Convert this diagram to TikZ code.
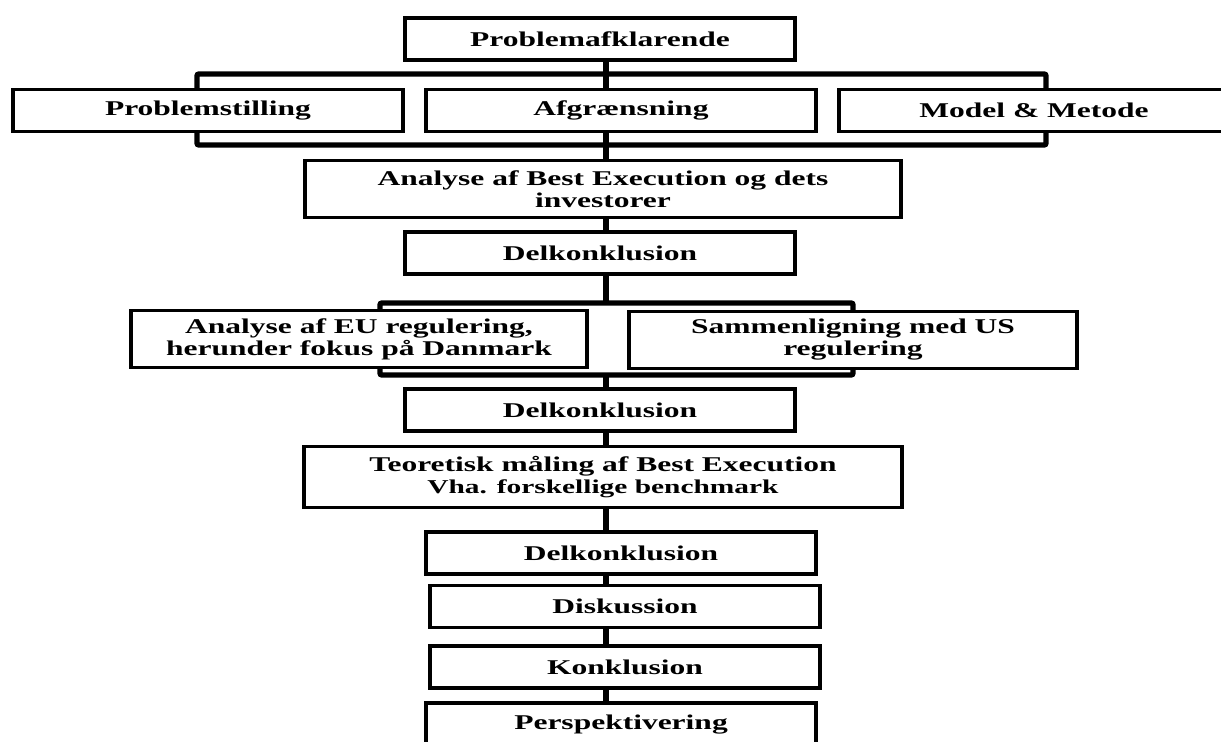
\documentclass[tikz,border=0pt]{standalone}
\usepackage{fontspec}
\setmainfont{Liberation Serif}[FakeStretch=1.5]
\usetikzlibrary{backgrounds}
\begin{document}
\begin{tikzpicture}[x=0.5pt,y=-0.5pt,
	box/.style={draw,line width=1.8pt,fill=white,align=center,inner sep=0pt,
		font=\fontsize{10.5}{11}\selectfont\bfseries,minimum height=21pt},
	wide/.style={box,minimum width=195pt},
	trunk/.style={line width=3.3pt},
	bracket/.style={line width=2.7pt,rounded corners=1pt}]
	
	\clip (0,0) rectangle (1221,742);
	
	% problemafklarende del
	\node[wide] (prob) at (600,39) {Problemafklarende};
	\node[wide] (stil) at (208,110.5) {Problemstilling};
	\node[wide] (afg) at (621,110.5) {Afgrænsning};
	\node[wide] (model) at (1034,110.5) {Model \& Metode};
	
	% analyse
	\node[box,minimum width=298pt,minimum height=28.5pt] (ana) at (603,189) {Analyse af Best Execution og dets\\investorer};
	\node[wide] (delk1) at (600,253) {Delkonklusion};
	\node[box,minimum width=228pt,minimum height=28.5pt] (eu) at (359,339) {Analyse af EU regulering,\\herunder fokus på Danmark};
	\node[box,minimum width=224pt,minimum height=28.5pt] (us) at (853,340) {Sammenligning med US\\regulering};
	\node[wide] (delk2) at (600,410) {Delkonklusion};
	\node[box,minimum width=299pt,minimum height=30.5pt] (teo) at (603,477) {Teoretisk måling af Best Execution\\{\fontsize{9.8}{10}\selectfont Vha. forskellige benchmark}};
	
	% afslutning
	\node[wide] (delk3) at (621,553) {Delkonklusion};
	\node[wide] (disk) at (625,606.5) {Diskussion};
	\node[wide] (konk) at (625,667) {Konklusion};
	\node[wide,minimum height=22pt] (persp) at (621,725) {Perspektivering};
	
	\begin{scope}[on background layer]
		\fill[white] (0,0) rectangle (1221,742);
		\coordinate (b1nw) at (197,74);
		\coordinate (b1se) at (1046,145);
		\coordinate (b2nw) at (380,303);
		\coordinate (b2se) at (853,375);
		\coordinate (t) at (606,0);
		\draw[bracket] (b1nw) rectangle (b1se);
		\draw[bracket] (b2nw) rectangle (b2se);
		\draw[trunk] (prob.south -| t) -- (ana.north -| t);
		\draw[trunk] (ana.south -| t) -- (delk1.north -| t);
		\draw[trunk] (delk1.south -| t) -- (b2nw -| t);
		\draw[trunk] (b2se -| t) -- (delk2.north -| t);
		\draw[trunk] (delk2.south -| t) -- (teo.north -| t);
		\draw[trunk] (teo.south -| t) -- (delk3.north -| t);
		\draw[trunk] (delk3.south -| t) -- (disk.north -| t);
		\draw[trunk] (disk.south -| t) -- (konk.north -| t);
		\draw[trunk] (konk.south -| t) -- (persp.north -| t);
	\end{scope}
	
\end{tikzpicture}
\end{document}
